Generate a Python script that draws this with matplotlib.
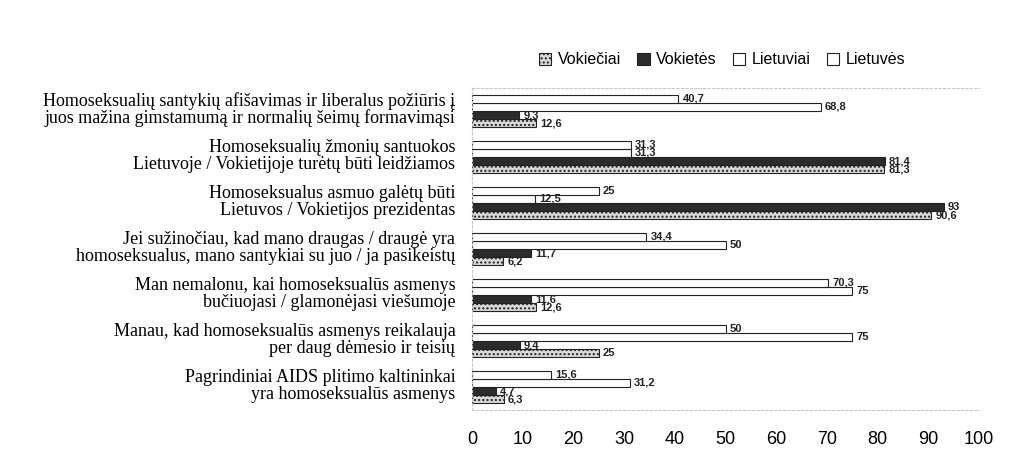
import matplotlib
matplotlib.use("Agg")
import matplotlib.pyplot as plt
import numpy as np

categories = [
    "Homoseksualių santykių afišavimas ir liberalus požiūris į\njuos mažina gimstamumą ir normalių šeimų formavimąsi",
    "Homoseksualių žmonių santuokos\nLietuvoje / Vokietijoje turėtų būti leidžiamos",
    "Homoseksualus asmuo galėtų būti\nLietuvos / Vokietijos prezidentas",
    "Jei sužinočiau, kad mano draugas / draugė yra\nhomoseksualus, mano santykiai su juo / ja pasikeistų",
    "Man nemalonu, kai homoseksualūs asmenys\nbučiuojasi / glamonėjasi viešumoje",
    "Manau, kad homoseksualūs asmenys reikalauja\nper daug dėmesio ir teisių",
    "Pagrindiniai AIDS plitimo kaltininkai\nyra homoseksualūs asmenys",
]
series_names = ["Vokiečiai", "Vokietės", "Lietuviai", "Lietuvės"]
vokieciai = [12.6, 81.3, 90.6, 6.2, 12.6, 25, 6.3]
vokietes = [9.3, 81.4, 93, 11.7, 11.6, 9.4, 4.7]
lietuviai = [68.8, 31.3, 12.5, 50, 75, 75, 31.2]
lietuves = [40.7, 31.3, 25, 34.4, 70.3, 50, 15.6]
xticks = [0, 10, 20, 30, 40, 50, 60, 70, 80, 90, 100]

fig = plt.figure(figsize=(10.33, 4.72), dpi=100)
ax = fig.add_axes([472/1033, 1-410/472, (979-472)/1033, (410-88)/472])

series = [vokieciai, vokietes, lietuviai, lietuves]
faces = ["#d8d8d8", "#2b2b2b", "white", "white"]
hatches = ["....", None, None, None]
h = 0.175
offsets = [1.5*h, 0.5*h, -0.5*h, -1.5*h]
y = np.arange(len(categories))
handles = []
for vals, fc, ht, off, name in zip(series, faces, hatches, offsets, series_names):
    bars = ax.barh(y + off, vals, height=h, color=fc, edgecolor="#222222",
                   linewidth=0.8, hatch=ht, label=name)
    handles.append(bars)
    for yy, v in zip(y + off, vals):
        ax.text(v + 0.8, yy, f"{v:g}".replace(".", ","), va="center", ha="left",
                fontsize=8, fontweight="bold", color="#222222",
                family="Liberation Sans")

ax.set_xlim(0, 100)
ax.set_ylim(6.5, -0.5)
ax.set_xticks(xticks)
ax.set_xticklabels([str(t) for t in xticks], fontsize=13, family="Liberation Sans")
ax.tick_params(axis="x", length=0, pad=15)
ax.set_yticks(y - 0.06)
ax.set_yticklabels(categories, fontsize=13, family="Liberation Serif", linespacing=0.95)
ax.tick_params(axis="y", length=0, pad=12)
for s in ax.spines.values():
    s.set_color("#c8c8c8")
    s.set_linestyle((0, (2, 2)))
    s.set_linewidth(0.8)
ax.spines["right"].set_visible(False)

fig.legend(handles, series_names,
           loc="center", bbox_to_anchor=(722/1033, 1-60/472), ncol=4,
           frameon=False, prop={"family": "Liberation Sans", "size": 11.5},
           handlelength=0.8, handleheight=0.8, handletextpad=0.4, columnspacing=1.0)

fig.savefig("out.png", dpi=100)
